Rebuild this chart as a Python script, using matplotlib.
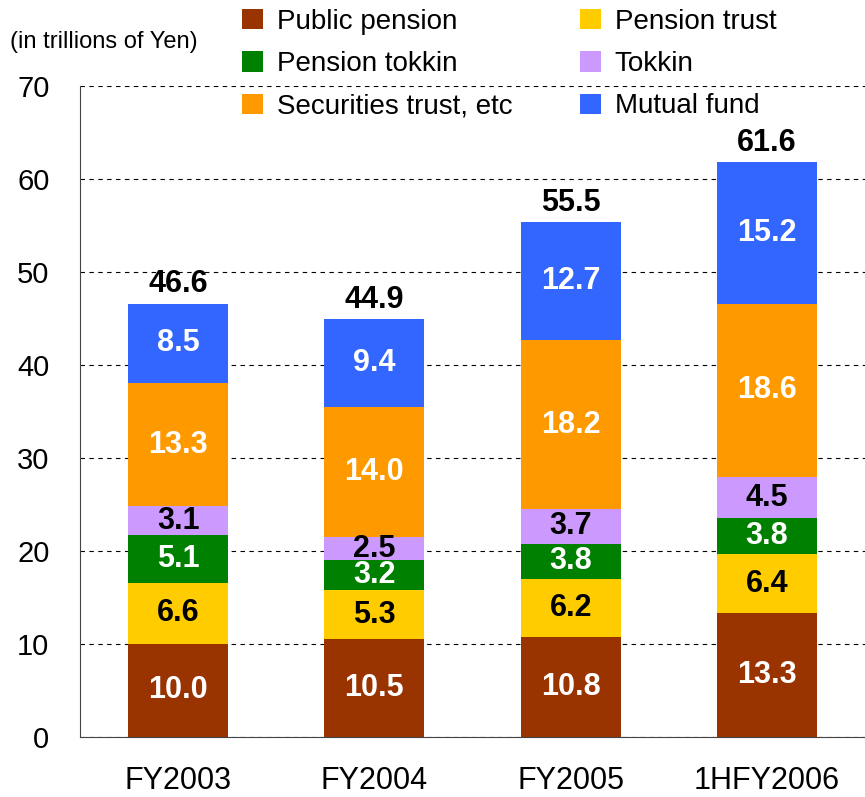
import numpy as np
import matplotlib
matplotlib.use('Agg')
from matplotlib import pyplot as plt
from matplotlib.patches import Patch

plt.rcParams['font.family'] = ['Liberation Sans', 'DejaVu Sans']

categories = ['FY2003', 'FY2004', 'FY2005', '1HFY2006']
public_pension = [10.0, 10.5, 10.8, 13.3]
pension_trust = [6.6, 5.3, 6.2, 6.4]
pension_tokkin = [5.1, 3.2, 3.8, 3.8]
tokkin = [3.1, 2.5, 3.7, 4.5]
securities_trust = [13.3, 14.0, 18.2, 18.6]
mutual_fund = [8.5, 9.4, 12.7, 15.2]
totals = [46.6, 44.9, 55.5, 61.6]

series = [
    ('Public pension', public_pension, '#993300', 'white'),
    ('Pension trust', pension_trust, '#FFCC00', 'black'),
    ('Pension tokkin', pension_tokkin, '#008000', 'white'),
    ('Tokkin', tokkin, '#CC99FF', 'black'),
    ('Securities trust, etc', securities_trust, '#FF9900', 'white'),
    ('Mutual fund', mutual_fund, '#3366FF', 'white'),
]

fig = plt.figure(figsize=(8.65, 7.97), dpi=100)
ax = fig.add_axes([0.0925, 0.0753, 0.9075, 0.8167])

x = np.arange(len(categories))
bottom = np.zeros(len(categories))
for name, vals, color, txt in series:
    vals = np.array(vals)
    ax.bar(x, vals, 0.51, bottom=bottom, color=color, zorder=2)
    for xi, b, v in zip(x, bottom, vals):
        ax.text(xi, b + v / 2, f'{v:.1f}', ha='center', va='center',
                color=txt, fontsize=22, fontweight='bold', zorder=3)
    bottom += vals

for xi, top, t in zip(x, bottom, totals):
    ax.annotate(f'{t:.1f}', (xi, top), xytext=(0, 3), textcoords='offset points',
                ha='center', va='bottom', fontsize=22, fontweight='bold')

ax.set_xlim(-0.5, 3.5)
ax.set_ylim(0, 70)
ax.set_yticks(range(0, 71, 10))
ax.set_xticks(x)
ax.set_xticklabels(categories)
ax.tick_params(axis='y', length=0, pad=22, labelsize=21)
ax.tick_params(axis='x', length=0, pad=21, labelsize=22)
ax.yaxis.grid(True, linestyle=(0, (4, 4)), color='black', linewidth=0.8, zorder=0)
ax.set_axisbelow(True)
for s in ['top', 'right']:
    ax.spines[s].set_visible(False)
ax.spines['left'].set_color('#444444')
ax.spines['bottom'].set_color('#444444')

handles = [Patch(facecolor=c, label=n) for n, _, c, _ in series]
order = [0, 2, 4, 1, 3, 5]
fig.legend([handles[i] for i in order], [handles[i].get_label() for i in order],
           ncol=2, loc='upper left', bbox_to_anchor=(0.267, 1.003), frameon=False,
           fontsize=20, handlelength=0.75, handleheight=0.75, handletextpad=0.5,
           columnspacing=2.43, labelspacing=0.59, borderaxespad=0)

fig.text(0.012, 0.947, '(in trillions of Yen)', fontsize=17, ha='left', va='center')

fig.savefig('out.png', dpi=100)
